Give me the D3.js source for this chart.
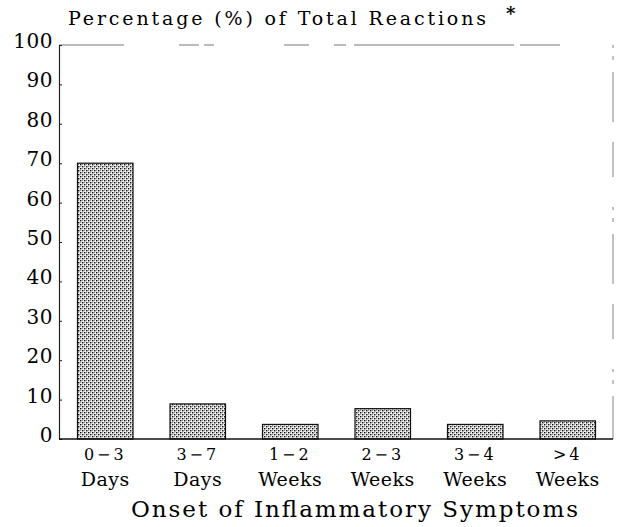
<!DOCTYPE html>
<meta charset="utf-8">
<style>
    body {
        margin: 0;
        background: #fff;
    }

    .axis path,
    .axis line {
        fill: none;
        stroke: #222;
    }
</style>

<body>
    <script src="https://d3js.org/d3.v7.min.js"></script>
    <script>

        // onset categories, two-line labels, percentages
        var periods = ["0-3 Days", "3-7 Days", "1-2 Weeks", "2-3 Weeks", "3-4 Weeks", ">4 Weeks"];
        var rangeLabels = ["0\u22123", "3\u22127", "1\u22122", "2\u22123", "3\u22124", ">4"];
        var unitLabels = ["Days", "Days", "Weeks", "Weeks", "Weeks", "Weeks"];
        var percentages = [70, 8.9, 3.7, 7.7, 3.7, 4.6];
        var yTicks = [0, 10, 20, 30, 40, 50, 60, 70, 80, 90, 100];

        var width = 621, height = 527;
        var frame = { left: 59, right: 613, top: 45, bottom: 439 };
        var serif = "'DejaVu Serif', 'Liberation Serif', serif";

        var svg = d3.select("body").append("svg")
            .attr("width", width)
            .attr("height", height)
            .style("font-family", serif);

        // dotted halftone fill like the scanned bars
        var pat = svg.append("defs").append("pattern")
            .attr("id", "dots")
            .attr("patternUnits", "userSpaceOnUse")
            .attr("width", 4)
            .attr("height", 4);
        pat.append("rect").attr("width", 4).attr("height", 4).attr("fill", "#eee");
        [[0, 0], [2, 2]].forEach(function (p) {
            pat.append("rect").attr("x", p[0]).attr("y", p[1])
                .attr("width", 1.4).attr("height", 1.4).attr("fill", "#111");
        });
        [[2, 0], [0, 2]].forEach(function (p) {
            pat.append("rect").attr("x", p[0]).attr("y", p[1])
                .attr("width", 1).attr("height", 1).attr("fill", "#999");
        });

        var x = d3.scaleBand()
            .domain(periods)
            .range([59, 614])
            .paddingInner(0.4)
            .paddingOuter(0.2);

        var y = d3.scaleLinear()
            .domain([0, 100])
            .range([frame.bottom, frame.top]);

        // frame: top and right edges are faint / broken in the scan
        svg.append("line")
            .attr("x1", frame.left).attr("x2", frame.right)
            .attr("y1", frame.top).attr("y2", frame.top)
            .attr("stroke", "#555")
            .attr("stroke-width", 0.8)
            .attr("stroke-dasharray", "65,55,20,5,10,70,25,25,12,8,160,6,40");
        svg.append("line")
            .attr("x1", frame.right).attr("x2", frame.right)
            .attr("y1", frame.top).attr("y2", frame.bottom)
            .attr("stroke", "#666")
            .attr("stroke-width", 0.8)
            .attr("stroke-dasharray", "3,8,4,12,50,20,35,30");

        var yAxis = svg.append("g")
            .attr("class", "axis")
            .attr("transform", "translate(" + frame.left + ",0)")
            .call(d3.axisRight(y).tickValues(yTicks).tickSize(3).tickFormat(""));
        yAxis.select(".domain").attr("stroke-width", 1.2);

        svg.append("g")
            .selectAll("text")
            .data(yTicks)
            .enter()
            .append("text")
            .attr("x", frame.left - 6)
            .attr("y", function (d) { return y(d) - 4; })
            .attr("dy", "0.35em")
            .attr("text-anchor", "end")
            .style("font-family", serif)
            .style("font-size", "20px")
            .style("letter-spacing", "0.5px")
            .text(function (d) { return d; });

        svg.selectAll(".bar")
            .data(percentages)
            .enter()
            .append("rect")
            .attr("class", "bar")
            .attr("x", function (d, i) { return x(periods[i]); })
            .attr("y", function (d) { return y(d); })
            .attr("width", x.bandwidth())
            .attr("height", function (d) { return y(0) - y(d); })
            .attr("fill", "url(#dots)")
            .attr("stroke", "#111")
            .attr("stroke-width", 1.2);

        svg.append("line")
            .attr("x1", frame.left).attr("x2", frame.right)
            .attr("y1", frame.bottom).attr("y2", frame.bottom)
            .attr("stroke", "#111")
            .attr("stroke-width", 1.4);

        var labels = svg.append("g")
            .selectAll("g")
            .data(periods)
            .enter()
            .append("g")
            .attr("transform", function (d) { return "translate(" + (x(d) + x.bandwidth() / 2) + ",0)"; });

        labels.append("text")
            .attr("y", 460)
            .attr("text-anchor", "middle")
            .style("font-family", serif)
            .style("font-size", "16px")
            .style("letter-spacing", "3px")
            .text(function (d, i) { return rangeLabels[i]; });

        labels.append("text")
            .attr("y", 486)
            .attr("text-anchor", "middle")
            .style("font-family", serif)
            .style("font-size", "19px")
            .style("letter-spacing", "0.5px")
            .text(function (d, i) { return unitLabels[i]; });

        svg.append("text")
            .attr("x", 68)
            .attr("y", 25)
            .attr("textLength", 418)
            .attr("lengthAdjust", "spacing")
            .style("font-family", serif)
            .style("font-size", "19px")
            .text("Percentage (%) of Total Reactions");
        svg.append("text")
            .attr("x", 506)
            .attr("y", 20)
            .style("font-family", serif)
            .style("font-size", "18px")
            .style("font-weight", "bold")
            .text("*");

        svg.append("text")
            .attr("x", 131)
            .attr("y", 517)
            .attr("textLength", 447)
            .attr("lengthAdjust", "spacing")
            .style("font-family", serif)
            .style("font-size", "23px")
            .text("Onset of Inflammatory Symptoms");

    </script>
</body>
